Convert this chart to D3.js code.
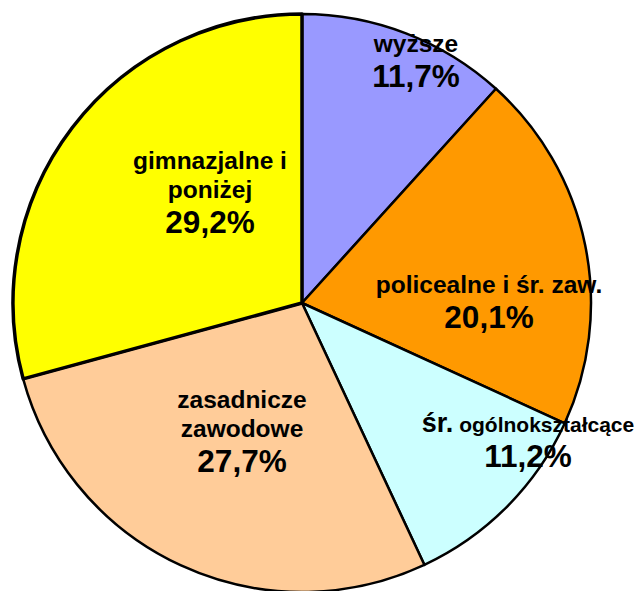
<!DOCTYPE html>
<html>
<head>
<meta charset="utf-8">
<script src="https://cdn.jsdelivr.net/npm/d3@7"></script>
<style>
  body { margin: 0; background: #fff; }
  text { font-family: "Liberation Sans", Arial, sans-serif; font-weight: bold; fill: #000; }
</style>
</head>
<body>
<script>
const width = 641,
    height = 591;

// data
const categories = ["wyższe", "policealne i śr. zaw.", "śr. ogólnokształcące", "zasadnicze zawodowe", "gimnazjalne i poniżej"];
const values = [11.7, 20.1, 11.2, 27.7, 29.2];
const colors = ["#9999ff", "#ff9900", "#ccffff", "#ffcc99", "#ffff00"];

// how each label is broken into lines: line -> parts of [text, font size]
const labelLines = [
    [[["wyższe", 24.5]]],
    [[["policealne i śr. zaw.", 24.5]]],
    [[["śr.", 27], [" ogólnokształcące", 21]]],
    [[["zasadnicze", 24.5]], [["zawodowe", 24.5]]],
    [[["gimnazjalne i", 24.5]], [["poniżej", 24.5]]]
];
// value baseline, relative to the pie centre
const labelAnchor = [[114, -216], [187, 25], [226, 164], [-60, 169], [-92, -70]];

const cx = 302, cy = 303, radius = 289;

const svg = d3.select('body')
    .append('svg')
    .attr('width', width)
    .attr('height', height)
    .append('g')
    .attr('transform', 'translate(' + cx + ',' + cy + ')');

const pie = d3.pie()
    .sort(null)
    .value(d => d);

const arc = d3.arc()
    .innerRadius(0)
    .outerRadius(radius);

const arcs = pie(values);

svg.selectAll('path')
    .data(arcs)
    .enter().append('path')
    .attr('d', arc)
    .attr('fill', (d, i) => colors[i])
    .attr('stroke', '#000')
    .attr('stroke-linejoin', 'round')
    .attr('stroke-width', (d, i) => i === 4 ? 3.5 : 2.5);

const fmt = v => d3.format('.1f')(v).replace('.', ',') + '%';

const labels = svg.selectAll('g.label')
    .data(arcs)
    .enter().append('g')
    .attr('class', 'label')
    .attr('transform', (d, i) => 'translate(' + labelAnchor[i][0] + ',' + labelAnchor[i][1] + ')');

labels.each(function (d, i) {
    const g = d3.select(this);
    const lines = labelLines[i];
    const n = lines.length;
    lines.forEach(function (parts, k) {
        const t = g.append('text')
            .attr('text-anchor', 'middle')
            .attr('y', -35 - (n - 1 - k) * 29);
        parts.forEach(function (p) {
            t.append('tspan')
                .style('font-size', p[1] + 'px')
                .text(p[0]);
        });
    });
    g.append('text')
        .attr('text-anchor', 'middle')
        .style('font-size', '31.5px')
        .text(fmt(d.data));
});
</script>
</body>
</html>
